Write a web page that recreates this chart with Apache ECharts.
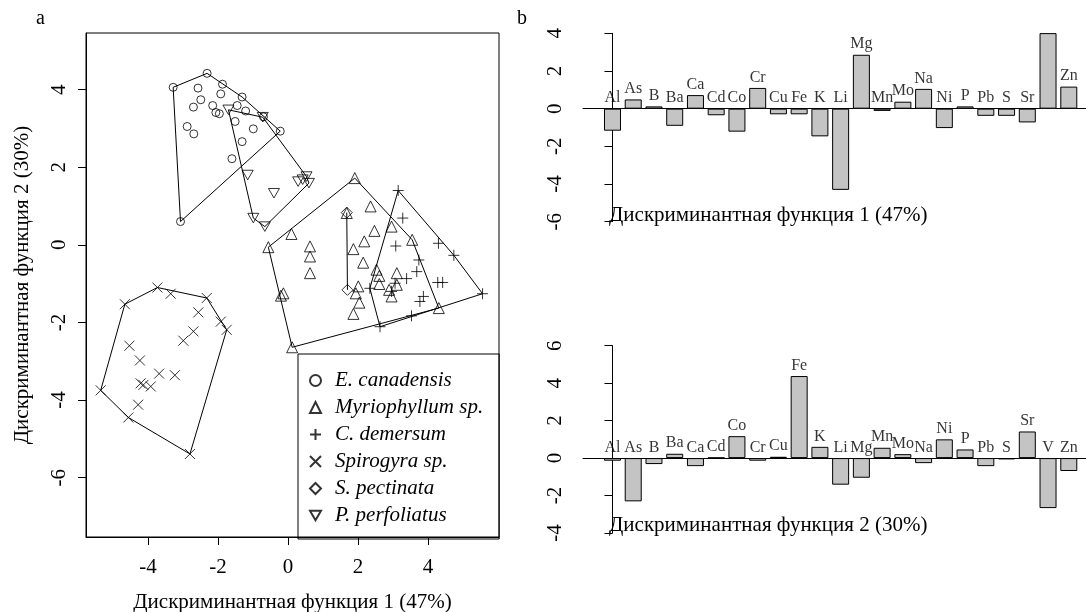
<!DOCTYPE html>
<html>
<head>
<meta charset="utf-8">
<script src="https://cdn.jsdelivr.net/npm/echarts@6/dist/echarts.min.js"></script>
<style>
  html, body { margin: 0; padding: 0; background: #fff; }
  #chart { width: 1086px; height: 612px; }
</style>
</head>
<body>
<div id="chart"></div>
<script>
// --- panel a: discriminant scores (DF1, DF2) per species ---
const speciesNames = ["E. canadensis", "Myriophyllum sp.", "C. demersum", "Spirogyra sp.", "S. pectinata", "P. perfoliatus"];

const eCanadensis = [
  [-3.28, 4.06], [-2.31, 4.42], [-1.87, 4.14], [-1.31, 3.81], [-0.22, 2.93], [-3.07, 0.60],
  [-2.57, 4.04], [-1.92, 3.89], [-2.49, 3.74], [-2.70, 3.55], [-2.15, 3.59], [-2.06, 3.41],
  [-1.96, 3.38], [-1.45, 3.59], [-1.21, 3.45], [-1.51, 3.18], [-0.99, 2.99], [-2.88, 3.05],
  [-2.69, 2.86], [-1.31, 2.66], [-1.60, 2.22], [-0.70, 3.30]
];
const myriophyllum = [
  [1.91, 1.72], [-0.56, -0.06], [-0.20, -1.31], [0.12, -2.64], [4.31, -1.63], [3.55, 0.13],
  [2.96, 0.47], [0.10, 0.28], [0.63, -0.04], [0.63, -0.30], [0.63, -0.73], [-0.13, -1.25],
  [2.36, 0.99], [2.47, 0.36], [2.18, 0.09], [1.87, -0.11], [2.15, -0.46], [1.68, 0.82],
  [2.53, -0.64], [2.61, -0.80], [2.61, -1.01], [3.11, -0.73], [3.11, -1.03], [2.89, -1.16],
  [2.96, -1.33], [2.01, -1.07], [1.94, -1.25], [2.04, -1.49], [1.87, -1.78]
];
const cDemersum = [
  [3.15, 1.40], [5.56, -1.26], [2.63, -2.11], [2.34, -1.12], [4.30, 0.04], [4.74, -0.27],
  [3.28, 0.69], [3.08, -0.03], [3.74, -0.39], [3.68, -0.69], [3.39, -0.87], [3.06, -0.99],
  [4.28, -0.97], [4.42, -0.97], [3.87, -1.33], [3.77, -1.46], [3.53, -1.83], [2.96, -1.20]
];
const spirogyra = [
  [-3.73, -1.10], [-4.66, -1.53], [-5.35, -3.75], [-4.56, -4.45], [-2.80, -5.39], [-1.75, -2.19],
  [-1.92, -1.98], [-2.32, -1.37], [-3.35, -1.26], [-2.56, -1.74], [-2.70, -2.23], [-2.99, -2.47],
  [-4.53, -2.60], [-4.23, -2.98], [-3.68, -3.32], [-3.23, -3.36], [-4.21, -3.57], [-4.13, -3.61],
  [-3.92, -3.65], [-4.28, -4.12]
];
const sPectinata = [[1.68, 0.83], [1.70, -1.16]];
const pPerfoliatus = [
  [-1.70, 3.48], [-0.72, 3.29], [0.42, 1.68], [0.53, 1.76], [0.60, 1.59], [0.29, 1.63],
  [-1.15, 1.80], [-0.40, 1.33], [-0.99, 0.69], [-0.66, 0.47]
];
const scatterTicksX = [-4, -2, 0, 2, 4];
const scatterTicksY = [-6, -4, -2, 0, 2, 4];

// --- panel b: standardized coefficients ---
const elements = ["Al", "As", "B", "Ba", "Ca", "Cd", "Co", "Cr", "Cu", "Fe", "K", "Li",
  "Mg", "Mn", "Mo", "Na", "Ni", "P", "Pb", "S", "Sr", "V", "Zn"];
const df1 = [-1.17, 0.49, 0.12, -0.91, 0.72, -0.35, -1.22, 1.10, -0.30, -0.30, -1.47, -4.31,
  2.86, -0.12, 0.37, 1.05, -1.03, 0.12, -0.38, -0.38, -0.73, 4.01, 1.17];
const df2 = [-0.14, -2.31, -0.32, 0.23, -0.43, 0.02, 1.17, -0.14, 0.07, 4.38, 0.60, -1.42,
  -1.05, 0.55, 0.21, -0.27, 1.00, 0.46, -0.43, -0.07, 1.42, -2.67, -0.69];
const below1 = ["V"]; // label drawn under the zero line

const serif = "Liberation Serif";
const chart = echarts.init(document.getElementById("chart"));

// convex hull (monotone chain), closed
const hull = (pts) => {
  const p = pts.slice().sort((a, b) => a[0] - b[0] || a[1] - b[1]);
  if (p.length < 3) return p;
  const cross = (o, a, b) => (a[0] - o[0]) * (b[1] - o[1]) - (a[1] - o[1]) * (b[0] - o[0]);
  const lower = [], upper = [];
  for (const q of p) {
    while (lower.length >= 2 && cross(lower[lower.length - 2], lower[lower.length - 1], q) <= 0) lower.pop();
    lower.push(q);
  }
  for (let i = p.length - 1; i >= 0; i--) {
    const q = p[i];
    while (upper.length >= 2 && cross(upper[upper.length - 2], upper[upper.length - 1], q) <= 0) upper.pop();
    upper.push(q);
  }
  upper.pop(); lower.pop();
  const h = lower.concat(upper);
  h.push(h[0]);
  return h;
};

const groups = [eCanadensis, myriophyllum, cDemersum, spirogyra, sPectinata, pPerfoliatus];
const symbols = [
  { symbol: "circle", size: 8 },
  { symbol: "triangle", size: 11 },
  { symbol: "path://M5,0 L5,10 M0,5 L10,5", size: 11 },
  { symbol: "path://M0,0 L10,10 M10,0 L0,10", size: 10 },
  { symbol: "diamond", size: 11 },
  { symbol: "path://M0,0 L10,0 L5,8.66 Z", size: 11 },
];

const series = [];
groups.forEach((g, k) => {
  series.push({
    name: "hull" + k,
    type: "line",
    data: hull(g),
    showSymbol: false,
    symbol: "none",
    silent: true,
    lineStyle: { color: "#000", width: 1 },
    z: 1,
  });
});
groups.forEach((g, k) => {
  series.push({
    name: speciesNames[k],
    type: "scatter",
    data: g,
    symbol: symbols[k].symbol,
    symbolSize: symbols[k].size,
    symbolKeepAspect: true,
    itemStyle: { color: "rgba(0,0,0,0)", borderColor: "#000", borderWidth: 1 },
    z: 2,
  });
});

const barSeries = (vals, idx, below) => [
  {
    type: "bar",
    xAxisIndex: idx,
    yAxisIndex: idx,
    data: vals.map((v, i) => [i, v]),
    barWidth: 17,
    itemStyle: { color: "#c4c4c4", borderColor: "#000", borderWidth: 1 },
  },
  {
    type: "scatter",
    xAxisIndex: idx,
    yAxisIndex: idx,
    symbolSize: 1,
    itemStyle: { color: "rgba(0,0,0,0)" },
    data: vals.map((v, i) => ({
      value: [i, Math.max(v, 0)],
      label: { position: below.includes(elements[i]) ? "bottom" : "top" },
    })),
    label: {
      show: true,
      distance: 2,
      formatter: (p) => elements[p.dataIndex],
      fontFamily: serif,
      fontSize: 16,
      color: "#000",
    },
    z: 3,
  },
];
series.push(...barSeries(df1, 1, below1), ...barSeries(df2, 2, []));

const barX = {
  type: "value", min: -1.422, max: 22.83,
  axisLine: { onZero: true, lineStyle: { color: "#000", width: 1 } },
  axisTick: { show: false }, axisLabel: { show: false }, splitLine: { show: false },
};
const barY = (min, max) => ({
  type: "value", min, max, interval: 2,
  axisLine: { show: true, lineStyle: { color: "#000", width: 1 } },
  axisTick: { show: true, length: 8, lineStyle: { color: "#000" } },
  axisLabel: { rotate: 90, margin: 17, fontFamily: serif, fontSize: 21, color: "#000" },
  splitLine: { show: false },
});

const plain = (size) => ({ fontFamily: serif, fontSize: size, fontWeight: "normal", color: "#000" });

const option = {
  animation: false,
  backgroundColor: "#fff",
  title: [
    { text: "a", left: 31, top: 4, textStyle: plain(20) },
    { text: "b", left: 512, top: 4, textStyle: plain(20) },
    { text: "Дискриминантная функция 1 (47%)", left: 604, top: 200, textStyle: plain(21) },
    { text: "Дискриминантная функция 2 (30%)", left: 604, top: 510, textStyle: plain(21) },
  ],
  legend: {
    data: speciesNames,
    orient: "vertical",
    left: 298, top: 354,
    borderColor: "#000", borderWidth: 1,
    padding: [16, 16, 13, 11],
    itemWidth: 11, itemHeight: 11, itemGap: 6,
    textStyle: { fontFamily: serif, fontStyle: "italic", fontSize: 21, lineHeight: 21, color: "#000", padding: [0, 0, 0, 9] },
  },
  grid: [
    { left: 86, right: 587, top: 33, bottom: 75, outerBoundsMode: "none", show: true, borderColor: "#000", borderWidth: 1, backgroundColor: "transparent" },
    { left: 583, right: 0, top: 33.3, height: 188.4, outerBoundsMode: "none" },
    { left: 583, right: 0, top: 345.7, height: 187.3, outerBoundsMode: "none" },
  ],
  xAxis: [
    {
      gridIndex: 0, type: "value", min: -5.77, max: 6.03,
      name: "Дискриминантная функция 1 (47%)", nameLocation: "middle", nameGap: 55,
      nameTextStyle: plain(21),
      axisLine: { show: true, onZero: false, lineStyle: { color: "#000" } },
      axisTick: { show: true, length: 8, customValues: scatterTicksX, lineStyle: { color: "#000" } },
      axisLabel: { customValues: scatterTicksX, margin: 20, fontFamily: serif, fontSize: 21, color: "#000" },
      splitLine: { show: false },
    },
    Object.assign({ gridIndex: 1 }, barX),
    Object.assign({ gridIndex: 2 }, barX),
  ],
  yAxis: [
    {
      gridIndex: 0, type: "value", min: -7.53, max: 5.46,
      name: "Дискриминантная функция 2 (30%)", nameLocation: "middle", nameGap: 53,
      nameTextStyle: plain(21),
      axisLine: { show: true, onZero: false, lineStyle: { color: "#000" } },
      axisTick: { show: true, length: 8, customValues: scatterTicksY, lineStyle: { color: "#000" } },
      axisLabel: { customValues: scatterTicksY, rotate: 90, margin: 16, fontFamily: serif, fontSize: 21, color: "#000" },
      splitLine: { show: false },
    },
    Object.assign({ gridIndex: 1 }, barY(-6, 4)),
    Object.assign({ gridIndex: 2 }, barY(-4, 6)),
  ],
  series,
};

chart.setOption(option);
</script>
</body>
</html>
